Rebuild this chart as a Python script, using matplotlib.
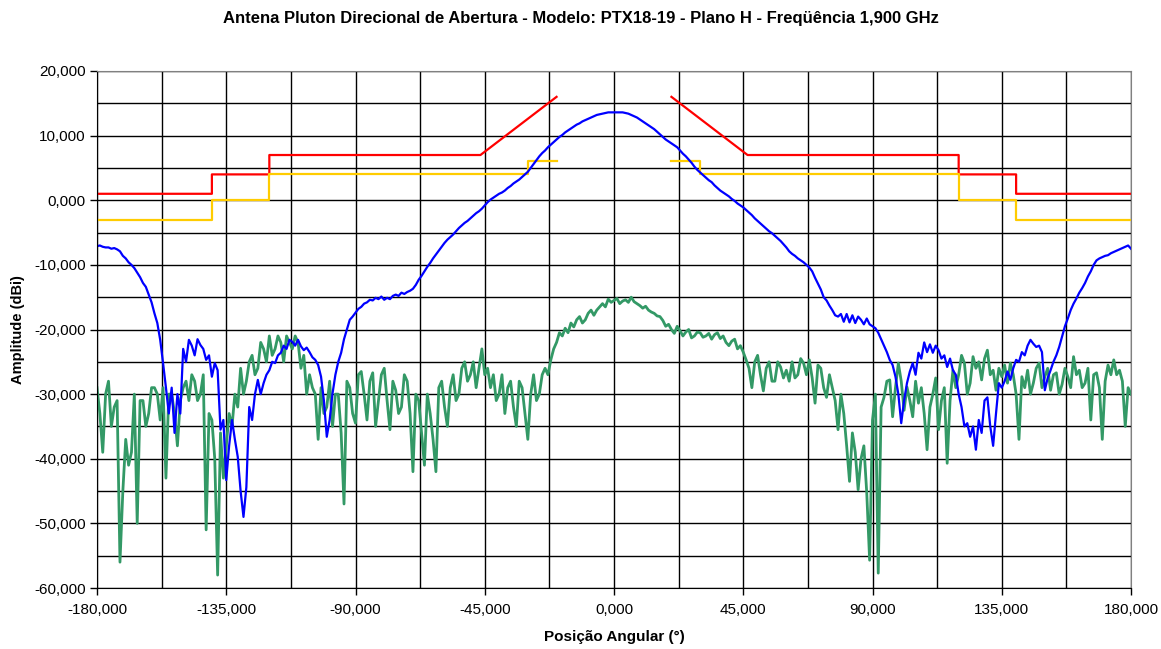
import matplotlib.pyplot as plt
import numpy as np
from matplotlib.ticker import MultipleLocator, FuncFormatter

plt.rcParams['font.family'] = ['Liberation Sans', 'DejaVu Sans']

# angulos a cada 1 grau
ang = np.arange(-180, 181, 1)

# co-polar (azul)
co_pol = [
    -7.1, -7.0, -7.2, -7.3, -7.3, -7.5, -7.4, -7.6, -7.9, -8.6,
    -9.0, -9.6, -10.0, -10.5, -11.2, -11.9, -12.8, -13.4, -14.6, -15.8,          # -180..-161
    -17.5, -19.0, -21.6, -25.2, -29.0, -33.0, -29.0, -36.0, -30.0, -33.0,
    -23.0, -25.0, -21.6, -22.5, -24.0, -21.5, -22.4, -23.0, -24.7, -24.0,        # -160..-141
    -27.3, -25.2, -26.3, -35.5, -34.0, -43.3, -38.0, -34.0, -37.0, -39.7,
    -45.0, -49.0, -44.4, -32.0, -34.0, -30.0, -27.8, -30.0, -28.3, -27.0,        # -140..-121
    -26.3, -25.0, -25.2, -24.0, -23.6, -22.5, -23.0, -21.6, -21.9, -22.5,
    -21.6, -22.6, -23.2, -22.8, -23.5, -24.3, -24.7, -25.5, -27.3, -31.0,        # -120..-101
    -36.6, -34.0, -29.9, -27.0, -25.0, -23.6, -21.5, -20.0, -18.5, -18.0,
    -17.4, -16.8, -16.5, -16.0, -15.8, -15.4, -15.5, -15.1, -15.3, -14.9,        # -100..-81
    -15.4, -15.1, -15.3, -14.8, -14.6, -14.8, -14.3, -14.5, -14.2, -14.0,
    -13.7, -13.1, -12.3, -11.7, -11.0, -10.3, -9.7, -9.0, -8.4, -7.8,            # -80..-61
    -7.2, -6.6, -6.1, -5.7, -5.3, -4.8, -4.3, -3.9, -3.5, -3.2,
    -2.8, -2.4, -2.0, -1.7, -1.3, -0.8, -0.3, 0.1, 0.4, 0.7,                     # -60..-41
    1.0, 1.2, 1.5, 1.9, 2.2, 2.6, 2.9, 3.2, 3.6, 4.0,
    4.4, 5.0, 5.6, 6.2, 6.8, 7.3, 7.7, 8.2, 8.6, 9.0,                            # -40..-21
    9.4, 9.8, 10.1, 10.5, 10.8, 11.1, 11.4, 11.7, 11.9, 12.2,
    12.4, 12.6, 12.8, 13.0, 13.2, 13.3, 13.4, 13.5, 13.6, 13.6,                  # -20..-1
    13.6, 13.6, 13.6, 13.6, 13.5, 13.4, 13.2, 13.0, 12.8, 12.5,
    12.2, 11.9, 11.6, 11.3, 11.0, 10.6, 10.2, 9.8, 9.4, 9.1,                     # 0..19
    8.8, 8.5, 8.2, 7.7, 7.2, 6.8, 6.3, 5.8, 5.2, 4.7,
    4.3, 3.9, 3.5, 3.1, 2.8, 2.3, 1.9, 1.5, 1.2, 0.9,                            # 20..39
    0.6, 0.2, -0.1, -0.5, -0.8, -1.1, -1.5, -1.9, -2.3, -2.8,
    -3.2, -3.6, -4.0, -4.4, -4.8, -5.1, -5.5, -5.9, -6.3, -6.8,                  # 40..59
    -7.3, -7.9, -8.3, -8.6, -9.0, -9.3, -9.6, -10.0, -10.4, -11.0,
    -12.0, -12.9, -13.8, -15.0, -15.5, -16.3, -17.0, -17.8, -18.0, -17.6,        # 60..79
    -18.8, -17.6, -18.9, -17.8, -19.0, -18.0, -18.5, -19.2, -18.3, -19.2,
    -19.5, -19.8, -20.5, -21.5, -22.5, -23.5, -24.7, -25.5, -27.3, -30.0,        # 80..99
    -34.5, -31.0, -28.3, -26.5, -25.2, -27.0, -23.6, -24.5, -22.0, -23.5,
    -22.3, -23.6, -22.5, -23.2, -24.5, -24.0, -25.8, -24.5, -26.3, -27.0,        # 100..119
    -30.0, -32.0, -35.0, -34.5, -36.6, -35.0, -38.6, -34.0, -36.0, -31.0,
    -30.5, -35.0, -38.0, -33.0, -28.3, -29.0, -28.0, -26.5, -27.8, -26.0,        # 120..139
    -24.7, -25.0, -23.5, -24.0, -22.5, -21.6, -22.2, -22.7, -22.5, -23.5,
    -29.4, -27.5, -26.3, -25.0, -24.0, -22.7, -21.1, -19.5, -18.3, -17.0,        # 140..159
    -16.0, -15.2, -14.3, -13.6, -12.8, -11.8, -11.0, -10.0, -9.3, -9.0,
    -8.8, -8.6, -8.5, -8.2, -8.0, -7.8, -7.6, -7.4, -7.2, -7.0,                  # 160..179
    -7.5,                                                                        # 180
]

# polarizacao cruzada (verde)
cross_pol = [
    -29, -33, -39, -30, -28, -35, -32, -31, -56, -45,
    -37, -41, -39, -30, -50, -31, -31, -35, -33, -29,                            # -180..-161
    -29, -30, -34, -29, -43, -30, -30, -33, -38, -31,
    -29, -28, -31, -27, -28, -31, -30, -27, -51, -33,                            # -160..-141
    -34, -40, -58, -36, -43, -38, -33, -35, -30, -32,
    -26, -30, -28, -25, -24, -27, -26, -22, -23, -25,                            # -140..-121
    -21, -24, -23, -21, -22, -25, -21, -22, -23, -21,
    -22, -26, -24, -30, -27, -29, -30, -37, -29, -33,                            # -120..-101
    -32, -28, -35, -30, -30, -36, -47, -28, -29, -33,
    -34.5, -27, -26.5, -30, -34, -28, -26.7, -35, -31, -27,                      # -100..-81
    -26, -31, -35.5, -28, -29.4, -33, -32, -27, -28, -33,
    -42, -30, -31, -36, -41, -30, -33, -37, -42, -29,                            # -80..-61
    -28, -32, -35, -29, -27, -31, -30, -26, -25, -28,
    -27, -25, -29, -26, -23, -27, -26, -29, -27, -31,                            # -60..-41
    -30, -27, -33, -29, -28, -32, -35, -28, -29, -33,
    -37, -30, -27, -31, -30, -27, -26, -27, -24.7, -23,                          # -40..-21
    -22, -20.5, -21, -19.8, -20.5, -19, -19.6, -18.5, -18, -19,
    -18.5, -17.5, -17, -17.8, -17, -16.5, -16, -16.5, -15.3, -15.8,              # -20..-1
    -15.5, -15.2, -16, -15.6, -15.4, -15.8, -15, -15.7, -16, -16.3,
    -16.7, -16.4, -17, -17.3, -17.5, -17.9, -18, -18.6, -19.5, -19.2,            # 0..19
    -20, -20.6, -19.5, -20.2, -21, -20.4, -20, -21.3, -21, -20.4,
    -20.5, -21.2, -21, -20.6, -21.5, -20.8, -20.5, -21.4, -21, -22,              # 20..39
    -22.5, -21.8, -21.5, -23, -22.5, -23.5, -24.7, -26, -29, -25,
    -24, -27, -29.5, -26, -25, -28, -28, -25, -25.8, -27.5,                      # 40..59
    -26.3, -28, -25, -27.5, -27, -24.5, -25.2, -27, -24.7, -27.5,
    -31.4, -25.5, -26, -29, -30.5, -27, -29, -31, -35.5, -30,                    # 60..79
    -33, -38, -43.5, -36, -39, -44.8, -40, -38, -45.3, -55.7,
    -34, -30, -57.7, -32, -30.5, -28, -27.8, -33.5, -29, -25.2,                  # 80..99
    -28, -32.5, -28.9, -31, -33.5, -28, -31.4, -29, -33, -38.6,
    -32, -30, -27.5, -35.5, -31, -29, -40.7, -31, -26.3, -29,                    # 100..119
    -27, -24, -25.2, -30, -28.3, -24.2, -26, -25, -27.8, -24.5,
    -23.2, -27, -26.3, -29.4, -26, -27.3, -25.5, -28.3, -25.2, -27,              # 120..139
    -30, -37, -27.3, -29, -26.3, -30, -28.3, -26, -25.2, -29,
    -27.3, -26, -29.4, -27, -26.7, -30, -28.5, -26, -27.3, -29,                  # 140..159
    -24.2, -27, -26.3, -29, -28.3, -26, -34, -27, -26.7, -29,
    -37, -28, -25.5, -27, -24.7, -27, -26.3, -28, -35, -29,                      # 160..179
    -30,                                                                         # 180
]

# mascaras
red_left_x = [-180, -140, -140, -120, -120, -46.5, -20]
red_left_y = [1, 1, 4, 4, 7, 7, 16]
red_right_x = [20, 46.5, 120, 120, 140, 140, 180]
red_right_y = [16, 7, 7, 4, 4, 1, 1]
yel_left_x = [-180, -140, -140, -120, -120, -30, -30, -20]
yel_left_y = [-3, -3, 0, 0, 4, 4, 6, 6]
yel_right_x = [20, 30, 30, 120, 120, 140, 140, 180]
yel_right_y = [6, 6, 4, 4, 0, 0, -3, -3]

fig = plt.figure(figsize=(11.61, 6.49), dpi=100)
ax = fig.add_axes([97/1161, 1-588/649, (1131-97)/1161, (588-71)/649])

ax.plot(red_left_x, red_left_y, color='#FF0000', lw=1.6)
ax.plot(red_right_x, red_right_y, color='#FF0000', lw=1.6)
ax.plot(yel_left_x, yel_left_y, color='#FFCC00', lw=1.6)
ax.plot(yel_right_x, yel_right_y, color='#FFCC00', lw=1.6)
ax.plot(ang, cross_pol, color='#339966', lw=2.0)
ax.plot(ang, co_pol, color='#0000FF', lw=1.6)

ax.set_xlim(-180, 180)
ax.set_ylim(-60, 20)
ax.xaxis.set_major_locator(MultipleLocator(45))
ax.xaxis.set_minor_locator(MultipleLocator(22.5))
ax.yaxis.set_major_locator(MultipleLocator(10))
ax.yaxis.set_minor_locator(MultipleLocator(5))
fmt = FuncFormatter(lambda v, p: ('%.3f' % v).replace('.', ','))
ax.xaxis.set_major_formatter(fmt)
ax.yaxis.set_major_formatter(fmt)
ax.grid(True, which='both', color='black', lw=1.0)
ax.set_axisbelow(True)
ax.tick_params(which='major', direction='out', length=5, width=1, labelsize=11, color='black', pad=3)
ax.tick_params(axis='x', pad=6)
ax.tick_params(which='minor', length=0)
for s in ['top', 'right']:
    ax.spines[s].set_color('#808080')
for s in ['left', 'bottom']:
    ax.spines[s].set_color('black')

fig.text(0.5, 1-18/649, 'Antena Pluton Direcional de Abertura - Modelo: PTX18-19 - Plano H - Freqüência 1,900 GHz',
         ha='center', va='center', fontsize=12, fontweight='bold')
fig.text(614/1161, 1-637/649, 'Posição Angular (°)', ha='center', va='center', fontsize=11, fontweight='bold')
fig.text(18/1161, 1-330/649, 'Amplitude (dBi)', ha='center', va='center', rotation=90, fontsize=10.5, fontweight='bold')

plt.savefig('out.png', dpi=100)
